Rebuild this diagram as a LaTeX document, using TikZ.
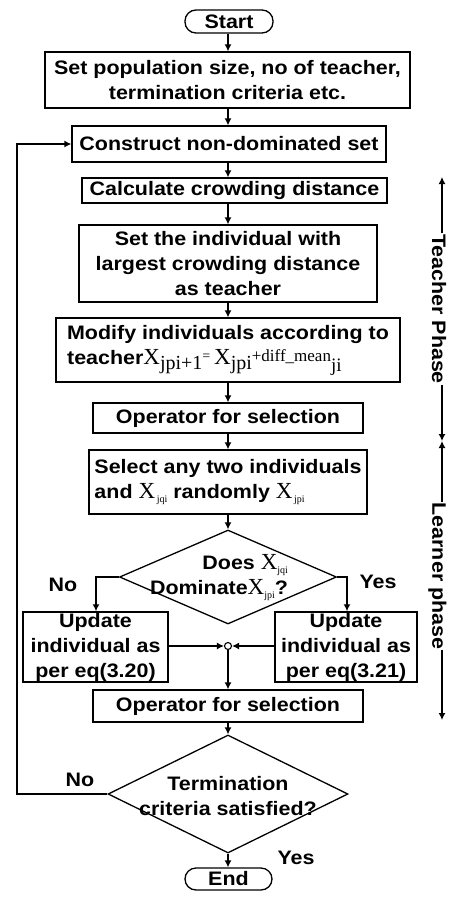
\documentclass[tikz,border=0pt]{standalone}
\usepackage{fontspec}
\setmainfont{Liberation Sans}[FakeStretch=1.1]
\newfontfamily\tms{Liberation Serif}
\usetikzlibrary{shapes.geometric,arrows.meta}

\begin{document}
\begin{tikzpicture}[x=1pt,y=-1pt,line width=1.3pt]
    \tikzstyle{arr}=[line width=1.3pt,-{Latex[length=7pt,width=7pt]}]
    \tikzstyle{box}=[draw, inner sep=1pt, align=center, font=\bfseries\fontsize{19.5}{25}\selectfont]
    \tikzstyle{tbox}=[box, rounded corners=11pt]
    \tikzstyle{dbox}=[draw, diamond, inner sep=0pt]
    \tikzstyle{lbl}=[font=\bfseries\fontsize{19.5}{25}\selectfont]
    \def\lo#1{\raisebox{-5pt}{\fontsize{20}{20}\selectfont #1}}
    \def\xs#1{{\tms\mdseries\fontsize{23}{23}\selectfont X\raisebox{-4pt}{\fontsize{10}{10}\selectfont\,#1}}}

    \useasboundingbox (0,0) rectangle (448,897);
    \coordinate (axis) at (228,0);

    \node[tbox, minimum width=88pt, minimum height=23pt] (start) at (229,21.5) {Start};
    \node[box, minimum width=365pt, minimum height=56pt] (init) at (227.5,80)
        {Set population size, no of teacher,\\termination criteria etc.};
    \node[box, minimum width=314pt, minimum height=36pt] (nds) at (229,144) {Construct non-dominated set};
    \node[box, minimum width=305pt, minimum height=25pt] (crowd) at (234.5,190.5) {Calculate crowding distance};
    \node[box, minimum width=298pt, minimum height=77pt] (teach) at (228,263.5)
        {Set the individual with\\largest crowding distance\\as teacher};
    \node[box, minimum width=344pt, minimum height=64pt, align=left] (modify) at (228,350)
        {Modify individuals according to\\teacher{\tms\mdseries\fontsize{23}{23}\selectfont X\lo{jpi+1}\raisebox{4pt}{\fontsize{14}{14}\selectfont =}\,X\lo{jpi}\raisebox{3pt}{\fontsize{17}{17}\selectfont+diff\_mean}\raisebox{-7pt}{\fontsize{19}{19}\selectfont ji}}};
    \node[box, minimum width=270pt, minimum height=30pt] (opsel1) at (228,418) {Operator for selection};
    \node[box, minimum width=278pt, minimum height=64pt, align=left] (pick) at (228,482)
        {Select any two individuals\\and \xs{jqi} randomly \xs{jpi}};

    \node[dbox, minimum width=217pt, minimum height=94pt] (dom) at (228,577) {};
    \node[lbl, align=right, anchor=east] (domtxt) at (292,578)
        {Does {\tms\mdseries\fontsize{23}{23}\selectfont X\raisebox{-4pt}{\fontsize{10}{10}\selectfont jqi}}\\Dominate{\tms\mdseries\fontsize{23}{23}\selectfont X\raisebox{-4pt}{\fontsize{10}{10}\selectfont jpi}}?};

    \node[box, minimum width=145pt, minimum height=70pt] (upd1) at (95.5,647)
        {Update\\individual as\\per eq(3.20)};
    \node[box, minimum width=142pt, minimum height=70pt] (upd2) at (346,647)
        {Update\\individual as\\per eq(3.21)};
    \node[draw, circle, line width=1.1pt, inner sep=0pt, minimum size=7pt] (junc) at (228,646) {};

    \node[box, minimum width=270pt, minimum height=32pt] (opsel2) at (228,706) {Operator for selection};
    \node[dbox, minimum width=240pt, minimum height=118pt] (term) at (228,794) {};
    \node[lbl, align=center] (termtxt) at (228,796) {Termination\\criteria satisfied?};
    \node[tbox, minimum width=87pt, minimum height=22pt] (end) at (228.5,879) {End};

    % main chain
    \foreach \a/\b in {start/init, init/nds, nds/crowd, crowd/teach, teach/modify,
                       modify/opsel1, opsel1/pick, pick/dom, opsel2/term, term/end} {
        \draw[arr] (\a.south -| axis) -- (\b.north -| axis);
    }

    % branches
    \coordinate (noL) at (96,0);
    \coordinate (yesR) at (347,0);
    \draw[arr] (dom.west) -| (noL |- upd1.north);
    \draw[arr] (dom.east) -| (yesR |- upd2.north);
    \draw[arr] (upd1.east |- junc) -- (junc.west);
    \draw[arr] (upd2.west |- junc) -- (junc.east);
    \draw[arr] (junc.south) -- (opsel2.north -| junc);

    % loop back
    \coordinate (back) at (17,0);
    \draw[arr] (term.west) -- (back |- term.west) -- (back |- nds.west) -- (nds.west);

    \node[lbl] (no1) at (63,585) {No};
    \node[lbl] (yes1) at (378,582) {Yes};
    \node[lbl] (no2) at (80,780) {No};
    \node[lbl] (yes2) at (296,858) {Yes};

    % phases
    \coordinate (tTop) at (442,177);
    \coordinate (tBot) at (442,441);
    \coordinate (lTop) at (442,441);
    \coordinate (lBot) at (442,720);
    \node[lbl, rotate=-90, inner sep=0pt] (tph) at (439,309) {Teacher Phase};
    \node[lbl, rotate=-90, inner sep=0pt] (lph) at (437.5,576) {Learner phase};
    \draw[arr] (tph.west -| tTop) -- (tTop);
    \draw[arr] (tph.east -| tBot) -- (tBot);
    \draw[arr] (lph.west -| lTop) -- (lTop);
    \draw[arr] (lph.east -| lBot) -- (lBot);
\end{tikzpicture}
\end{document}
